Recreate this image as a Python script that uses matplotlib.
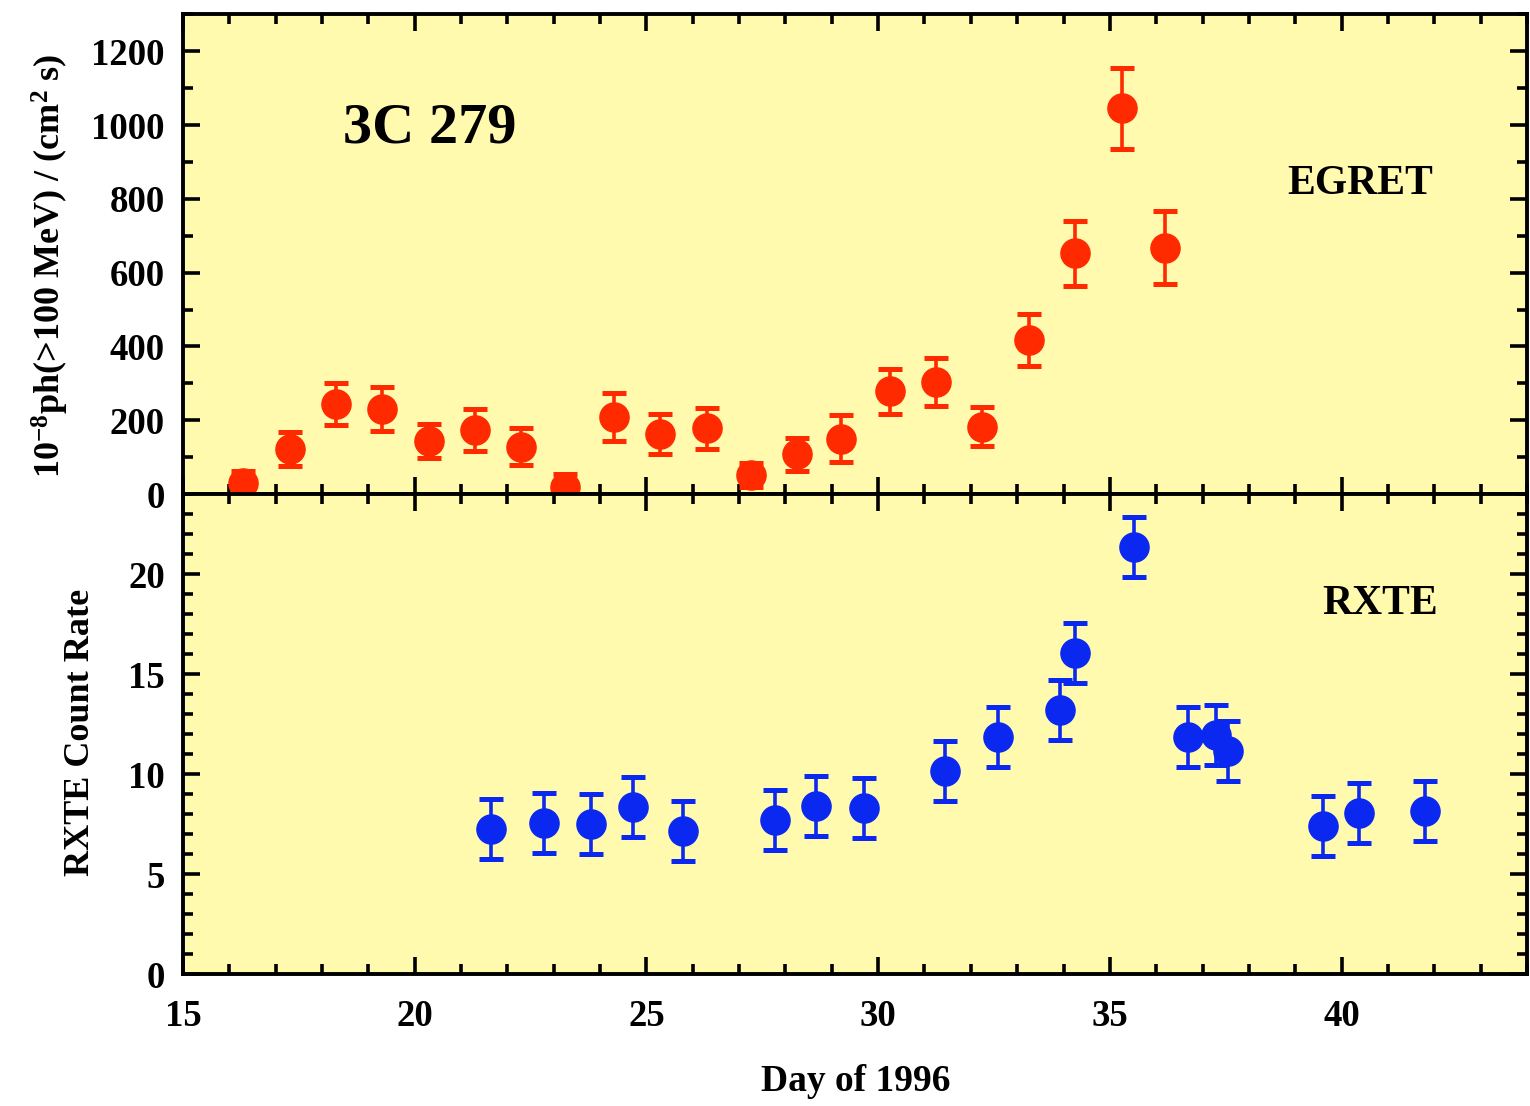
import matplotlib
matplotlib.use('Agg')
import matplotlib.pyplot as plt
from matplotlib.ticker import MultipleLocator

# EGRET flux (10^-8 ph cm^-2 s^-1, >100 MeV)
egret_day = [16.3, 17.3, 18.3, 19.3, 20.3, 21.3, 22.3, 23.25, 24.3, 25.3, 26.3,
             27.25, 28.25, 29.2, 30.25, 31.25, 32.25, 33.25, 34.25, 35.27, 36.2]
egret_flux = [30, 122, 243, 230, 145, 173, 128, 18, 208, 163, 178,
              52, 108, 150, 278, 303, 183, 417, 652, 1046, 668]
egret_err = [32, 47, 57, 59, 46, 57, 50, 35, 65, 55, 55,
             33, 45, 63, 60, 65, 52, 70, 87, 110, 100]

# RXTE count rate
rxte_day = [21.65, 22.8, 23.8, 24.72, 25.78, 27.78, 28.65, 29.7, 31.45, 32.58,
            33.92, 34.25, 35.52, 36.68, 37.3, 37.55, 39.6, 40.38, 41.8]
rxte_rate = [7.25, 7.55, 7.5, 8.35, 7.15, 7.7, 8.38, 8.28, 10.15, 11.85,
             13.2, 16.05, 21.35, 11.83, 11.95, 11.15, 7.42, 8.05, 8.15]
rxte_err = [1.5] * len(rxte_day)

bg = '#FFFAAE'
red = '#FF2A00'
blue = '#0A28F0'

plt.rcParams['font.family'] = ['Liberation Serif', 'DejaVu Serif']
plt.rcParams['font.weight'] = 'bold'
plt.rcParams['mathtext.fontset'] = 'custom'
plt.rcParams['mathtext.rm'] = 'Liberation Serif:bold'
plt.rcParams['mathtext.bf'] = 'Liberation Serif:bold'
plt.rcParams['mathtext.default'] = 'bf'

fig = plt.figure(figsize=(15.3, 11.06), dpi=100)
left, right = 0.1196, 0.998
ax1 = fig.add_axes([left, 0.5533, right - left, 0.987 - 0.5533])
ax2 = fig.add_axes([left, 0.1193, right - left, 0.5533 - 0.1193], sharex=ax1)

for ax in (ax1, ax2):
    ax.set_facecolor(bg)
    for s in ax.spines.values():
        s.set_linewidth(2.8)
    ax.tick_params(which='both', direction='in', top=True, right=True, width=2.6)
    ax.tick_params(which='major', length=12, labelsize=26.5, pad=13)
    ax.tick_params(which='minor', length=7)
    ax.xaxis.set_major_locator(MultipleLocator(5))
    ax.xaxis.set_minor_locator(MultipleLocator(1))

ax1.errorbar(egret_day, egret_flux, yerr=egret_err, fmt='o', color=red,
             markersize=21, elinewidth=2.6, capsize=8.5, capthick=3.6, zorder=3)
ax1.set_xlim(15, 44)
ax1.set_ylim(0, 1300)
ax1.yaxis.set_major_locator(MultipleLocator(200))
ax1.yaxis.set_minor_locator(MultipleLocator(100))
ax1.tick_params(axis='x', labelbottom=False)
ax1.text(18.45, 990, '3C 279', fontsize=42, fontweight='bold', ha='left', va='center')
ax1.text(41.98, 840, 'EGRET', fontsize=30, fontweight='bold', ha='right', va='center')

ax2.errorbar(rxte_day, rxte_rate, yerr=rxte_err, fmt='o', color=blue,
             markersize=21, elinewidth=2.6, capsize=8.5, capthick=3.6, zorder=3)
ax2.set_ylim(0, 24)
ax2.yaxis.set_major_locator(MultipleLocator(5))
ax2.yaxis.set_minor_locator(MultipleLocator(1))
ax2.tick_params(axis='x', pad=18)
ax2.text(42.09, 18.5, 'RXTE', fontsize=30, fontweight='bold', ha='right', va='center')

fig.text(0.0327, 0.760, r'10$^{-8}$ph(>100 MeV) / (cm$^{2}$ s)', rotation=90,
         fontsize=26, fontweight='bold', ha='center', va='center')
fig.text(0.0523, 0.338, 'RXTE Count Rate', rotation=90,
         fontsize=26, fontweight='bold', ha='center', va='center')
fig.text(0.5595, 0.0217, 'Day of 1996', fontsize=27, fontweight='bold',
         ha='center', va='center')

fig.savefig('out.png', dpi=100, facecolor='white')
